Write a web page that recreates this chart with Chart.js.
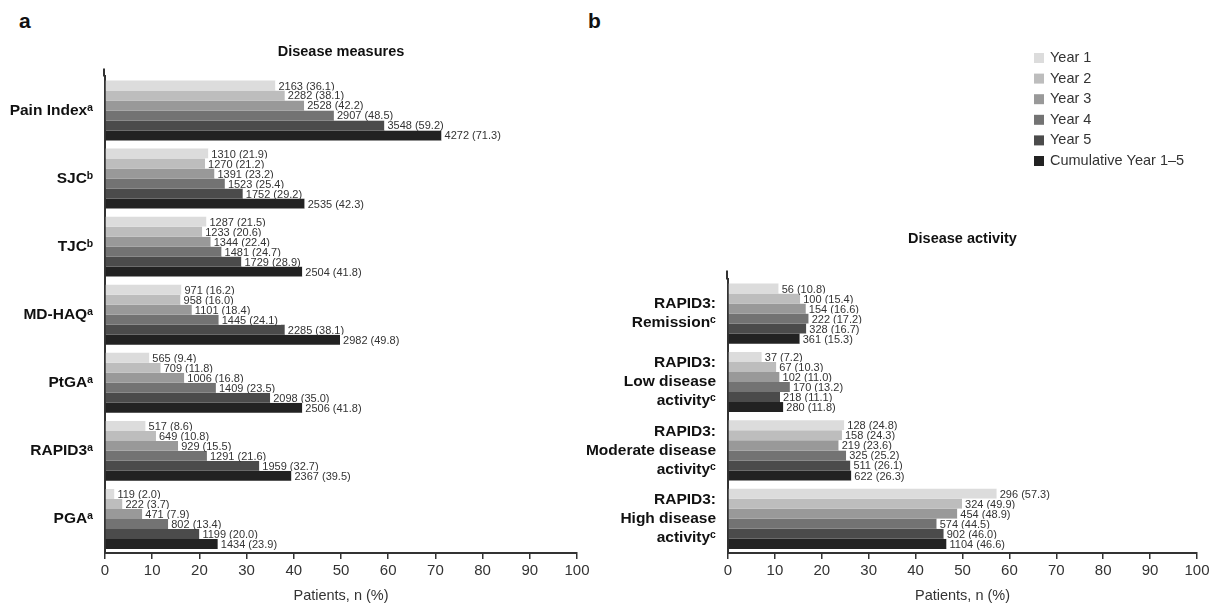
<!DOCTYPE html>
<html>
<head>
<meta charset="utf-8">
<script src="https://cdn.jsdelivr.net/npm/chart.js@4"></script>
<style>
body{margin:0;background:#fff;width:1213px;height:605px;position:relative;overflow:hidden;font-family:"Liberation Sans",Arial,sans-serif}
.panel{position:absolute;top:0;height:605px}
.tag{position:absolute;font-weight:bold;font-size:21px;color:#111}
</style>
</head>
<body>
<div class="tag" style="left:19px;top:9px">a</div>
<div class="tag" style="left:588px;top:9px">b</div>
<div class="panel" style="left:0;width:600px"><canvas id="chartA"></canvas></div>
<div class="panel" style="left:570px;width:643px"><canvas id="chartB"></canvas></div>
<script>
const seriesNames = ["Year 1", "Year 2", "Year 3", "Year 4", "Year 5", "Cumulative Year 1\u20135"];
const colors = ["#dcdcdc", "#bdbdbd", "#999999", "#737373", "#4b4b4b", "#222222"];

// panel a - disease measures
const measureLabels = ["Pain Index\u1d43", "SJC\u1d47", "TJC\u1d47", "MD-HAQ\u1d43", "PtGA\u1d43", "RAPID3\u1d43", "PGA\u1d43"];
const measurePct = [
    [36.1, 21.9, 21.5, 16.2, 9.4, 8.6, 2.0],
    [38.1, 21.2, 20.6, 16.0, 11.8, 10.8, 3.7],
    [42.2, 23.2, 22.4, 18.4, 16.8, 15.5, 7.9],
    [48.5, 25.4, 24.7, 24.1, 23.5, 21.6, 13.4],
    [59.2, 29.2, 28.9, 38.1, 35.0, 32.7, 20.0],
    [71.3, 42.3, 41.8, 49.8, 41.8, 39.5, 23.9]
];
const measureN = [
    [2163, 1310, 1287, 971, 565, 517, 119],
    [2282, 1270, 1233, 958, 709, 649, 222],
    [2528, 1391, 1344, 1101, 1006, 929, 471],
    [2907, 1523, 1481, 1445, 1409, 1291, 802],
    [3548, 1752, 1729, 2285, 2098, 1959, 1199],
    [4272, 2535, 2504, 2982, 2506, 2367, 1434]
];

// panel b - disease activity
const activityLabels = [
    ["RAPID3:", "Remission\u1d9c"],
    ["RAPID3:", "Low disease", "activity\u1d9c"],
    ["RAPID3:", "Moderate disease", "activity\u1d9c"],
    ["RAPID3:", "High disease", "activity\u1d9c"]
];
const activityPct = [
    [10.8, 7.2, 24.8, 57.3],
    [15.4, 10.3, 24.3, 49.9],
    [16.6, 11.0, 23.6, 48.9],
    [17.2, 13.2, 25.2, 44.5],
    [16.7, 11.1, 26.1, 46.0],
    [15.3, 11.8, 26.3, 46.6]
];
const activityN = [
    [56, 37, 128, 296],
    [100, 67, 158, 324],
    [154, 102, 219, 454],
    [222, 170, 325, 574],
    [328, 218, 511, 902],
    [361, 280, 622, 1104]
];

const xTicks = {min: 0, max: 100, step: 10};
const FONT = '"Liberation Sans", Arial, sans-serif';
Chart.defaults.font.family = FONT;

// "n (%)" labels at the end of each bar, on a white box
const valueLabels = {
    id: 'valueLabels',
    afterDatasetsDraw(chart) {
        const ctx = chart.ctx;
        ctx.save();
        ctx.font = '11px ' + FONT;
        ctx.textBaseline = 'middle';
        chart.data.datasets.forEach((ds, i) => {
            chart.getDatasetMeta(i).data.forEach((bar, j) => {
                const txt = ds.counts[j] + ' (' + ds.data[j].toFixed(1) + ')';
                const w = ctx.measureText(txt).width;
                ctx.fillStyle = '#fff';
                ctx.fillRect(bar.x, bar.y - bar.height / 2, w + 6, bar.height);
                ctx.fillStyle = '#333';
                ctx.fillText(txt, bar.x + 3, bar.y + 1);
            });
        });
        ctx.restore();
    }
};

// y axis line runs a bit above the first group
const axisTop = {
    id: 'axisTop',
    afterDraw(chart, args, opts) {
        const a = chart.chartArea, ctx = chart.ctx;
        ctx.save();
        ctx.strokeStyle = '#333';
        ctx.lineWidth = 2;
        ctx.beginPath();
        ctx.moveTo(a.left - 1, a.top - opts.up);
        ctx.lineTo(a.left - 1, a.top);
        ctx.stroke();
        ctx.restore();
    }
};

const sideLegend = {
    id: 'sideLegend',
    afterDraw(chart, args, opts) {
        const ctx = chart.ctx;
        ctx.save();
        ctx.font = '14.5px ' + FONT;
        ctx.textBaseline = 'middle';
        chart.data.datasets.forEach((ds, i) => {
            const y = opts.y + i * opts.step;
            ctx.fillStyle = ds.backgroundColor;
            ctx.fillRect(opts.x, y - 5, 10, 10);
            ctx.fillStyle = '#333';
            ctx.fillText(ds.label, opts.x + 16, y);
        });
        ctx.restore();
    }
};

function makeChart(id, labels, pct, counts, title, yWidth, padRight, titlePad, up, extra, extraOpts) {
    const datasets = seriesNames.map((name, i) => ({
        label: name,
        data: pct[i],
        counts: counts[i],
        backgroundColor: colors[i],
        borderWidth: 0,
        barPercentage: 1,
        categoryPercentage: 0.88
    }));
    const plugins = {
        legend: {display: false},
        tooltip: {enabled: false},
        title: {
            display: true, text: title, fullSize: false, color: '#111',
            font: {size: 14.5, weight: 'bold'},
            padding: titlePad
        },
        axisTop: {up: up}
    };
    Object.assign(plugins, extraOpts || {});
    return new Chart(id, {
        type: 'bar',
        data: {labels: labels, datasets: datasets},
        options: {
            indexAxis: 'y',
            responsive: true,
            maintainAspectRatio: false,
            animation: false,
            layout: {padding: {left: 0, right: padRight, top: 0, bottom: 0}},
            scales: {
                x: {
                    min: xTicks.min, max: xTicks.max,
                    ticks: {stepSize: xTicks.step, color: '#333', font: {size: 15}, padding: 3},
                    grid: {drawOnChartArea: false, tickLength: 6, color: '#333', lineWidth: 1.5},
                    border: {color: '#333', width: 2},
                    title: {display: true, text: 'Patients, n (%)', color: '#333', font: {size: 14.5}, padding: {top: 2, bottom: 0}},
                    afterFit(s) { s.height = 52; }
                },
                y: {
                    ticks: {color: '#111', font: {size: 15.5, weight: 'bold', lineHeight: 1.22}, padding: 12},
                    grid: {display: false, drawTicks: false},
                    border: {color: '#333', width: 2},
                    afterFit(s) { s.width = yWidth; }
                }
            },
            plugins: plugins
        },
        plugins: [valueLabels, axisTop].concat(extra || [])
    });
}

makeChart('chartA', measureLabels, measurePct, measureN, 'Disease measures', 105, 23, {top: 43, bottom: 16}, 8);
makeChart('chartB', activityLabels, activityPct, activityN, 'Disease activity', 158, 16, {top: 230, bottom: 32}, 9,
    [sideLegend], {sideLegend: {x: 464, y: 58, step: 20.6}});
</script>
</body>
</html>
